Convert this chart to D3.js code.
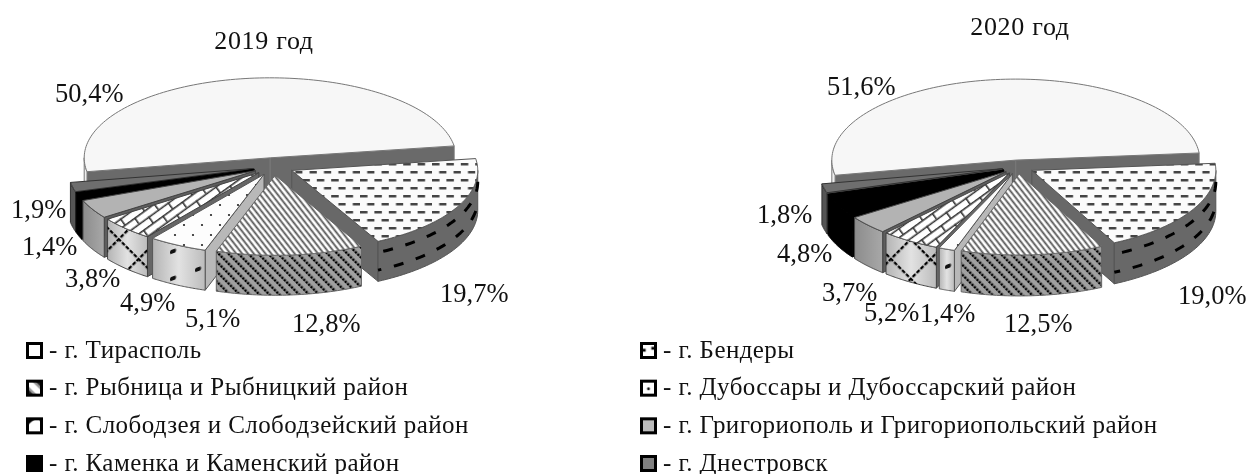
<!DOCTYPE html>
<html>
<head>
<meta charset="utf-8">
<script src="https://cdnjs.cloudflare.com/ajax/libs/d3/7.8.5/d3.min.js"></script>
<style>
    html, body { margin: 0; padding: 0; background: #fff; }
    text { font-family: "Liberation Serif", serif; fill: #111; }
    svg { filter: blur(0.35px); }
</style>
</head>
<body>
<div id="chart"></div>
<script>
// Chart values
const categories = [
    "г. Тирасполь",
    "г. Бендеры",
    "г. Рыбница и Рыбницкий район",
    "г. Дубоссары и Дубоссарский район",
    "г. Слободзея и Слободзейский район",
    "г. Григориополь и Григориопольский район",
    "г. Каменка и Каменский район",
    "г. Днестровск"
];
const values2019 = [50.4, 19.7, 12.8, 5.1, 4.9, 3.8, 1.4, 1.9];
const values2020 = [51.6, 19.0, 12.5, 1.4, 5.2, 3.7, 4.8, 1.8];

// Setting up the svg container
const width = 1257;
const height = 474;

const svg = d3.select("#chart").append("svg")
    .attr("width", width)
    .attr("height", height)
    .style("display", "block");

const defs = svg.append("defs");

// Helper for the hatch patterns
function addPattern(id, w, h, transform, draw) {
    const p = defs.append("pattern")
        .attr("id", id)
        .attr("patternUnits", "userSpaceOnUse")
        .attr("width", w)
        .attr("height", h);
    if (transform) p.attr("patternTransform", transform);
    draw(p);
}

// Legend marks stretch one pattern over the whole box (contents in 0..1)
function addMark(id, draw) {
    const p = defs.append("pattern")
        .attr("id", id)
        .attr("patternUnits", "objectBoundingBox")
        .attr("patternContentUnits", "objectBoundingBox")
        .attr("width", 1)
        .attr("height", 1);
    p.append("rect").attr("width", 1).attr("height", 1).attr("fill", "#fff");
    draw(p);
}

function addGradient(id, stops) {
    const g = defs.append("linearGradient").attr("id", id);
    stops.forEach((c, i) => {
        g.append("stop").attr("offset", i / (stops.length - 1)).attr("stop-color", c);
    });
}

addGradient("wallLight", ["#b4b4b4", "#e2e2e2", "#bcbcbc"]);
addGradient("wallGray", ["#8c8c8c", "#a8a8a8"]);

// Bendery top: staggered dashes
addPattern("dashTop", 14.4, 16, null, p => {
    p.append("rect").attr("width", 14.4).attr("height", 16).attr("fill", "#fbfbfb");
    p.append("rect").attr("x", 0).attr("y", 3).attr("width", 7.5).attr("height", 2.5).attr("fill", "#444");
    p.append("rect").attr("x", 7.2).attr("y", 11).attr("width", 7.5).attr("height", 2.5).attr("fill", "#444");
});
// Rybnitsa top: thin diagonal stripes
addPattern("stripeTop", 4.6, 10, "rotate(-38)", p => {
    p.append("rect").attr("width", 4.6).attr("height", 10).attr("fill", "#fff");
    p.append("rect").attr("x", 1.5).attr("width", 1.8).attr("height", 10).attr("fill", "#555");
});
// Rybnitsa wall: dotted diagonal stripes
addPattern("stripeWall", 7, 3.4, "rotate(-45)", p => {
    p.append("rect").attr("width", 7).attr("height", 3.4).attr("fill", "#a0a0a0");
    p.append("rect").attr("x", 2).attr("y", 0.5).attr("width", 2.4).attr("height", 2.4).attr("fill", "#000");
});
// Dubossary top: sparse dots
addPattern("dotTop", 18, 20, null, p => {
    p.append("rect").attr("width", 18).attr("height", 20).attr("fill", "#fdfdfd");
    p.append("circle").attr("cx", 4).attr("cy", 5).attr("r", 1.1).attr("fill", "#222");
    p.append("circle").attr("cx", 13).attr("cy", 15).attr("r", 1.1).attr("fill", "#222");
});
// Dubossary wall: few black marks
addPattern("dotWall", 25, 27, "translate(20,3) skewY(-20)", p => {
    p.append("rect").attr("x", 0).attr("y", 5).attr("width", 6).attr("height", 4).attr("rx", 1.5).attr("fill", "#111");
});
// Slobodzeya top: bricks
addPattern("brickTop", 24, 15, "rotate(-36)", p => {
    p.append("rect").attr("width", 24).attr("height", 15).attr("fill", "#fff");
    const a = "#333";
    p.append("rect").attr("y", 0).attr("width", 24).attr("height", 1.6).attr("fill", a);
    p.append("rect").attr("y", 7.5).attr("width", 24).attr("height", 1.6).attr("fill", a);
    p.append("rect").attr("x", 4).attr("y", 0).attr("width", 1.6).attr("height", 7.5).attr("fill", a);
    p.append("rect").attr("x", 16).attr("y", 7.5).attr("width", 1.6).attr("height", 7.5).attr("fill", a);
});
// Slobodzeya wall: big diamonds
addPattern("brickWall", 28, 28, "rotate(45)", p => {
    p.append("line").attr("x1", 0).attr("x2", 28).attr("y1", 1).attr("y2", 1)
        .attr("stroke", "#000").attr("stroke-width", 2.6).attr("stroke-dasharray", "4 1.6");
    p.append("line").attr("x1", 1).attr("x2", 1).attr("y1", 0).attr("y2", 28)
        .attr("stroke", "#000").attr("stroke-width", 2.6).attr("stroke-dasharray", "4 1.6");
});

// Legend marks
addMark("markBendery", p => {
    p.append("rect").attr("x", 0).attr("y", 0.38).attr("width", 0.3).attr("height", 0.2).attr("fill", "#000");
    p.append("rect").attr("x", 0.7).attr("y", 0.24).attr("width", 0.3).attr("height", 0.2).attr("fill", "#000");
});
addMark("markRybnitsa", p => {
    p.append("rect").attr("width", 1).attr("height", 1).attr("fill", "#9a9a9a");
    p.append("path").attr("d", "M0,0 L0.3,0 L1,0.7 L1,1 L0.7,1 L0,0.3Z").attr("fill", "#fff");
    p.append("path").attr("d", "M0,0.55 L0.45,1 L0,1Z M0.55,0 L1,0 L1,0.45Z").attr("fill", "#222");
});
addMark("markDubossary", p => {
    p.append("circle").attr("cx", 0.5).attr("cy", 0.55).attr("r", 0.1).attr("fill", "#000");
});
addMark("markSlobodzeya", p => {
    p.append("path").attr("d", "M0,0.5 Q0.3,0.1 0.7,0 L0,0Z M0.8,0 L1,0.3 L1,0Z").attr("fill", "#000");
});

// One style per category, same order as categories
const styles = [
    { top: "#f7f7f7", wall: "#eeeeee", side: "#6a6a6a", line: "#777" },
    { top: "url(#dashTop)", wall: "#686868", side: "#686868", line: "#555", wallDash: true },
    { top: "url(#stripeTop)", wall: "url(#stripeWall)", side: "#777", line: "#666" },
    { top: "url(#dotTop)", wall: "url(#wallLight)", over: "url(#dotWall)", side: "#b8b8b8", line: "#555" },
    { top: "url(#brickTop)", wall: "url(#wallLight)", over: "url(#brickWall)", side: "#666", line: "#444" },
    { top: "#b3b3b3", wall: "url(#wallGray)", side: "#5e5e5e", line: "#444" },
    { top: "#000", wall: "#000", side: "#000", line: "#000" },
    { top: "#6e6e6e", wall: "#555", side: "#666", line: "#333" }
];

const legendFills = [
    "#fff", "url(#markBendery)", "url(#markRybnitsa)", "url(#markDubossary)",
    "url(#markSlobodzeya)", "#bbb", "#000", "#808080"
];

const rad = d => d * Math.PI / 180;
const lineGen = d3.line();

// Draw one exploded pseudo-3D pie
function drawPie(config) {
    const { values, cx, cy, rx, ry, depth, explode, startDeg } = config;

    // d3.pie angles run clockwise from north, screen angles from east
    const pie = d3.pie().sort(null).startAngle(rad(startDeg)).endAngle(rad(startDeg + 360));
    const arcs = pie(values).map((d, i) => {
        const a0 = d.startAngle - Math.PI / 2;
        const a1 = d.endAngle - Math.PI / 2;
        const mid = (a0 + a1) / 2;
        return { i, a0, a1, mid, ox: cx + explode * rx * Math.cos(mid), oy: cy + explode * ry * Math.sin(mid) };
    });

    const g = svg.append("g");

    // Back to front
    arcs.slice().sort((a, b) => Math.sin(a.mid) - Math.sin(b.mid)).forEach(s => {
        const style = styles[s.i];
        const px = a => s.ox + rx * Math.cos(a);
        const py = a => s.oy + ry * Math.sin(a);
        const sliceG = g.append("g")
            .attr("stroke", style.line)
            .attr("stroke-width", 1)
            .attr("stroke-linejoin", "round");

        // Cut faces turned towards the viewer
        [[s.a0, Math.cos(s.a0) < 0], [s.a1, Math.cos(s.a1) > 0]].forEach(([a, visible]) => {
            if (!visible) return;
            sliceG.append("path")
                .attr("d", lineGen([[s.ox, s.oy], [px(a), py(a)], [px(a), py(a) + depth], [s.ox, s.oy + depth]]) + "Z")
                .attr("fill", style.side);
        });

        // Outer wall, only the front half of the ellipse can be seen
        const visibleRanges = [];
        [[0, Math.PI], [2 * Math.PI, 3 * Math.PI]].forEach(([lo, hi]) => {
            const from = Math.max(s.a0, lo), to = Math.min(s.a1, hi);
            if (to > from) visibleRanges.push([from, to]);
        });
        visibleRanges.forEach(([from, to]) => {
            const pts = d3.range(0, 41).map(k => from + (to - from) * k / 40);
            const upper = pts.map(a => [px(a), py(a)]);
            const lower = pts.slice().reverse().map(a => [px(a), py(a) + depth]);
            const d = lineGen(upper.concat(lower)) + "Z";
            sliceG.append("path").attr("d", d).attr("fill", style.wall);
            if (style.over) sliceG.append("path").attr("d", d).attr("fill", style.over).attr("stroke", "none");
            if (style.wallDash) {
                [0.28, 0.72].forEach((f, n) => {
                    sliceG.append("path")
                        .attr("d", lineGen(pts.map(a => [px(a), py(a) + depth * f])))
                        .attr("fill", "none")
                        .attr("stroke", "#000")
                        .attr("stroke-width", 3)
                        .attr("stroke-dasharray", "10 13")
                        .attr("stroke-dashoffset", n * 11);
                });
            }
        });

        // Top face
        const topPts = d3.range(0, 121).map(k => s.a0 + (s.a1 - s.a0) * k / 120).map(a => [px(a), py(a)]);
        sliceG.append("path")
            .attr("d", lineGen([[s.ox, s.oy]].concat(topPts)) + "Z")
            .attr("fill", style.top);
    });

    // Title and value labels
    svg.append("text")
        .attr("x", config.titleX)
        .attr("y", config.titleY)
        .attr("text-anchor", "middle")
        .attr("font-size", 26)
        .attr("letter-spacing", 0.7)
        .text(config.title);

    values.forEach((v, i) => {
        svg.append("text")
            .attr("x", config.labelPos[i][0])
            .attr("y", config.labelPos[i][1])
            .attr("font-size", 26.5)
            .text(d3.format(".1f")(v).replace(".", ",") + "%");
    });
}

drawPie({
    values: values2019, title: "2019 год", titleX: 264, titleY: 49,
    cx: 273.5, cy: 166.5, rx: 186, ry: 80, depth: 40, explode: 0.11, startDeg: 260,
    labelPos: [[55, 102], [440, 302], [292, 332], [185, 327], [120, 311], [65, 287], [22, 255], [11, 218]]
});

drawPie({
    values: values2020, title: "2020 год", titleX: 1020, titleY: 35,
    cx: 1018, cy: 167, rx: 184, ry: 81, depth: 41, explode: 0.086, startDeg: 259.2,
    labelPos: [[827, 95], [1178, 304], [1004, 332], [920, 322], [864, 321], [822, 301], [777, 262], [757, 223]]
});

// Legend, two columns filled row by row
const legendX = [27.5, 641.5];
const legendY = d3.scalePoint().domain(d3.range(4)).range([350.5, 463.5]);

categories.forEach((name, i) => {
    const col = i % 2;
    const row = Math.floor(i / 2);
    const x = legendX[col];
    const y = legendY(row);
    svg.append("rect")
        .attr("x", x).attr("y", y - 7)
        .attr("width", 14).attr("height", 14)
        .attr("fill", legendFills[i])
        .attr("stroke", "#000")
        .attr("stroke-width", 3);
    svg.append("text")
        .attr("x", x + 21.5)
        .attr("y", y + 7)
        .attr("font-size", 25)
        .attr("letter-spacing", 0.42)
        .text("- " + name);
});
</script>
</body>
</html>
